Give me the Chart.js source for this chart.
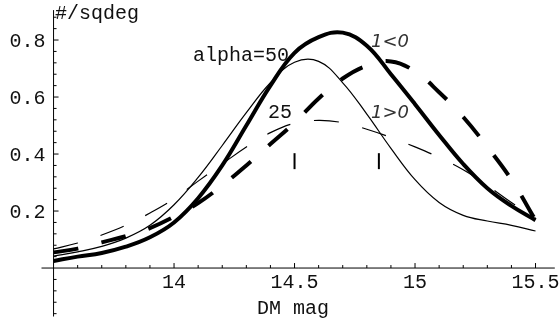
<!DOCTYPE html>
<html>
<head>
<meta charset="utf-8">
<script src="https://cdn.jsdelivr.net/npm/chart.js@4.4.0/dist/chart.umd.min.js"></script>
<style>
  html, body { margin: 0; padding: 0; background: #fff; }
  #wrap { width: 560px; height: 322px; }
</style>
</head>
<body>
<div id="wrap"><canvas id="dmChart" width="560" height="322"></canvas></div>
<script>
// magnitudes along the x axis
const mags = [13.5, 13.6, 13.7, 13.8, 13.9, 14.0, 14.1, 14.2, 14.3, 14.4, 14.5,
  14.6, 14.7, 14.8, 14.9, 15.0, 15.1, 15.2, 15.3, 15.4, 15.5];

// alpha=50, thick solid
const alpha50Neg = [0.025, 0.04, 0.053, 0.075, 0.108, 0.16, 0.245, 0.36, 0.50, 0.64, 0.755,
  0.81, 0.826, 0.78, 0.68, 0.575, 0.467, 0.365, 0.28, 0.218, 0.168];
// alpha=50, thin solid
const alpha50Pos = [0.042, 0.057, 0.076, 0.105, 0.15, 0.222, 0.318, 0.43, 0.545, 0.65, 0.722,
  0.725, 0.65, 0.54, 0.42, 0.31, 0.23, 0.185, 0.165, 0.15, 0.13];
// alpha=25, thick dashed
const alpha25Neg = [0.055, 0.068, 0.09, 0.112, 0.14, 0.18, 0.228, 0.29, 0.36, 0.435, 0.51,
  0.595, 0.665, 0.71, 0.725, 0.69, 0.617, 0.53, 0.425, 0.31, 0.168];
// alpha=25, thin dashed
const alpha25Pos = [0.067, 0.088, 0.116, 0.15, 0.193, 0.243, 0.305, 0.365, 0.425, 0.475, 0.508,
  0.518, 0.51, 0.487, 0.458, 0.425, 0.388, 0.345, 0.29, 0.23, 0.175];

// little vertical markers
const markMags = [14.5, 14.85];
const markRange = [0.347, 0.403];

const xTicks = [14, 14.5, 15, 15.5];
const yTicks = [0.2, 0.4, 0.6, 0.8];

const pts = (ys) => mags.map((m, i) => ({ x: m, y: ys[i] }));

const monoFont = '20px "Liberation Mono", "DejaVu Sans Mono", monospace';

const axesPlugin = {
  id: 'mathAxes',
  beforeDatasetsDraw(chart) {
    const { ctx, scales: { x, y } } = chart;
    const x0 = x.getPixelForValue(13.5);
    const y0 = y.getPixelForValue(0);
    ctx.save();
    ctx.strokeStyle = '#000';
    ctx.lineWidth = 1;
    ctx.beginPath();
    // x axis
    ctx.moveTo(x.left, y0); ctx.lineTo(x.right, y0);
    // y axis
    ctx.moveTo(x0, y.top); ctx.lineTo(x0, y.bottom);
    // x ticks every 0.1
    for (let k = 136; k <= 155; k++) {
      const px = x.getPixelForValue(k / 10);
      const len = (k % 5 === 0) ? 5 : 3;
      ctx.moveTo(px, y0); ctx.lineTo(px, y0 - len);
    }
    // y ticks every 0.04
    for (let k = -4; k <= 22; k++) {
      if (k === 0) continue;
      const py = y.getPixelForValue(k * 0.04);
      const len = (k % 5 === 0) ? 5 : 3;
      ctx.moveTo(x0, py); ctx.lineTo(x0 + len, py);
    }
    ctx.stroke();

    ctx.fillStyle = '#111';
    ctx.font = monoFont;
    ctx.textBaseline = 'alphabetic';
    ctx.textAlign = 'center';
    xTicks.forEach(t => ctx.fillText(String(t), x.getPixelForValue(t), y0 + 20));
    ctx.textAlign = 'right';
    yTicks.forEach(t => ctx.fillText(t.toFixed(1), x0 - 8, y.getPixelForValue(t) + 7));
    ctx.textAlign = 'left';
    ctx.fillText('#/sqdeg', 55, 19);
    ctx.textAlign = 'center';
    ctx.fillText('DM mag', 293, 314);
    ctx.restore();
  },
  afterDatasetsDraw(chart) {
    const { ctx } = chart;
    ctx.save();
    ctx.fillStyle = '#111';
    ctx.font = monoFont;
    ctx.textBaseline = 'alphabetic';
    ctx.textAlign = 'left';
    ctx.fillText('alpha=50', 193, 61);
    ctx.fillText('25', 268, 118);
    ctx.fillStyle = '#333';
    ctx.font = 'italic 18px "DejaVu Sans", sans-serif';
    ctx.fillText('1<0', 371, 47);
    ctx.fillText('1>0', 371, 118);
    ctx.restore();
  }
};

const datasets = [
  { data: pts(alpha50Neg), borderColor: '#000', borderWidth: 4 },
  { data: pts(alpha50Pos), borderColor: '#000', borderWidth: 1.2 },
  { data: pts(alpha25Neg), borderColor: '#000', borderWidth: 4, borderDash: [25, 24] },
  { data: pts(alpha25Pos), borderColor: '#000', borderWidth: 1.2, borderDash: [25, 24] },
];
markMags.forEach(m => {
  datasets.push({
    data: markRange.map(v => ({ x: m, y: v })),
    borderColor: '#000',
    borderWidth: 2,
    tension: 0,
  });
});

new Chart(document.getElementById('dmChart'), {
  type: 'line',
  data: { datasets },
  options: {
    responsive: false,
    animation: false,
    layout: { padding: { left: 41.5, right: 5.2, top: 10.1, bottom: 5.5 } },
    elements: {
      point: { radius: 0 },
      line: { tension: 0.4, fill: false, borderCapStyle: 'butt' },
    },
    plugins: {
      legend: { display: false },
      tooltip: { enabled: false },
    },
    scales: {
      x: { type: 'linear', min: 13.45, max: 15.58, display: false },
      y: { type: 'linear', min: -0.17, max: 0.905, display: false },
    },
    clip: false,
  },
  plugins: [axesPlugin],
});
</script>
</body>
</html>
